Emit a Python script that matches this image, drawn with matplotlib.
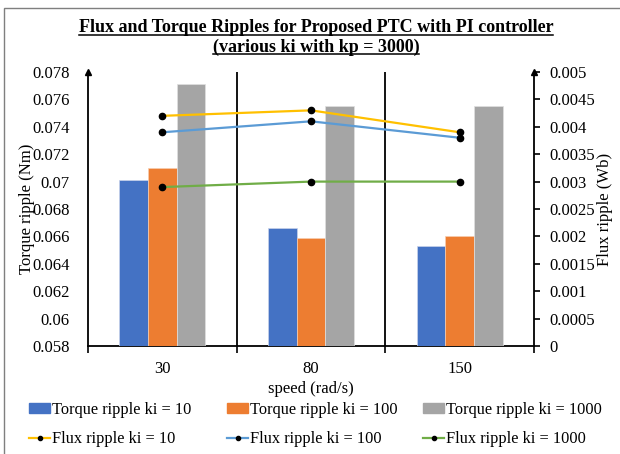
import numpy as np
import matplotlib
matplotlib.use('Agg')
import matplotlib.pyplot as plt
from matplotlib.lines import Line2D
from matplotlib.patches import Patch, Rectangle

plt.rcParams['font.family'] = ['Liberation Serif', 'DejaVu Serif']

# data
speeds = ['30', '80', '150']
torque_ki10 = [0.0701, 0.0666, 0.0653]
torque_ki100 = [0.0710, 0.0659, 0.0660]
torque_ki1000 = [0.0771, 0.0755, 0.0755]
flux_ki10 = [0.0042, 0.0043, 0.0039]
flux_ki100 = [0.0039, 0.0041, 0.0038]
flux_ki1000 = [0.0029, 0.0030, 0.0030]
ki_values = ['10', '100', '1000']

W, H = 620, 454
fig = plt.figure(figsize=(6.2, 4.54), dpi=100)

# outer chart border
fig.patches.append(Rectangle((4 / W, -0.1), 1.2, 1 - 8 / H + 0.1, transform=fig.transFigure,
                             fill=False, edgecolor='#7f7f7f', lw=1))

left, right, top, bottom = 88, 534, 72, 346
ax = fig.add_axes([left / W, 1 - bottom / H, (right - left) / W, (bottom - top) / H])
ax2 = ax.twinx()

x = np.arange(len(speeds))
bw = 0.193
bar_colors = ['#4472C4', '#ED7D31', '#A5A5A5']
ax.bar(x - bw, torque_ki10, bw, color=bar_colors[0], edgecolor='#c9d3ea', lw=0.5, zorder=3)
ax.bar(x, torque_ki100, bw, color=bar_colors[1], edgecolor='#f7cdb0', lw=0.5, zorder=3)
ax.bar(x + bw, torque_ki1000, bw, color=bar_colors[2], edgecolor='#e0e0e0', lw=0.5, zorder=3)

ax.set_ylim(0.058, 0.078)
ax.set_yticks(np.arange(0.058, 0.0781, 0.002))
ax.set_yticklabels(['0.058', '0.06', '0.062', '0.064', '0.066', '0.068', '0.07',
                    '0.072', '0.074', '0.076', '0.078'])
ax.set_xlim(-0.5, 2.5)
ax.set_xticks([-0.5, 0.5, 1.5, 2.5])
ax.set_xticklabels([])
ax.set_xticks(x, minor=True)
ax.set_xticklabels(speeds, minor=True)
ax.tick_params(axis='x', which='major', length=5, width=1.2, direction='out')
ax.tick_params(axis='x', which='minor', length=0, labelsize=12, pad=11)
ax.tick_params(axis='y', length=0, labelsize=12, pad=13)
for xv in [0.5, 1.5]:
    ax.axvline(xv, color='black', lw=1.3, zorder=2)
for s in ['top', 'right']:
    ax.spines[s].set_visible(False)
ax.spines['left'].set_linewidth(1.3)
ax.spines['bottom'].set_linewidth(1.3)
ax.plot([0], [1], marker='^', color='black', ms=4, transform=ax.transAxes, clip_on=False)

ax.set_xlabel('speed (rad/s)', fontsize=12, labelpad=3)
ax.set_ylabel('Torque ripple (Nm)', fontsize=12)
ax.yaxis.set_label_coords(-0.118, 0.5)

line_colors = ['#FFC000', '#5B9BD5', '#70AD47']
for vals, c in zip([flux_ki10, flux_ki100, flux_ki1000], line_colors):
    ax2.plot(x, vals, color=c, lw=1.6, marker='o', ms=4.5, mfc='black', mec='black', zorder=4)
ax2.set_ylim(0, 0.005)
ax2.set_yticks(np.arange(0, 0.00501, 0.0005))
ax2.set_yticklabels(['0', '0.0005', '0.001', '0.0015', '0.002', '0.0025', '0.003',
                     '0.0035', '0.004', '0.0045', '0.005'])
ax2.tick_params(axis='y', length=4, width=1.2, direction='out', labelsize=12, pad=7)
for s in ['top', 'left', 'bottom']:
    ax2.spines[s].set_visible(False)
ax2.spines['right'].set_linewidth(1.3)
ax2.plot([1], [1], marker='^', color='black', ms=4, transform=ax2.transAxes, clip_on=False)
ax2.set_ylabel('Flux ripple (Wb)', fontsize=12, rotation=90)
ax2.yaxis.set_label_coords(1.142, 0.5)

# title with underline
t1 = fig.text(316 / W, 1 - 28 / H, 'Flux and Torque Ripples for Proposed PTC with PI controller',
              ha='center', va='center', fontsize=13, fontweight='bold')
t2 = fig.text(316 / W, 1 - 47 / H, '(various ki with kp = 3000)',
              ha='center', va='center', fontsize=13, fontweight='bold')
fig.canvas.draw()
r = fig.canvas.get_renderer()
for t in [t1, t2]:
    bb = t.get_window_extent(r)
    yl = bb.y0 + 1.5
    fig.add_artist(Line2D([bb.x0 / W, bb.x1 / W], [yl / H, yl / H], color='black', lw=1.1,
                          transform=fig.transFigure))

# legend: three columns placed where the reference has them
col_x = [29, 227, 423]
for i, ki in enumerate(ki_values):
    hs = [Patch(color=bar_colors[i]),
          Line2D([], [], color=line_colors[i], lw=1.6, marker='o', ms=3, mfc='black', mec='black')]
    labs = ['Torque ripple ki = ' + ki, 'Flux ripple ki = ' + ki]
    fig.legend(hs, labs, loc='upper left', bbox_to_anchor=(col_x[i] / W, 1 - 402 / H),
               frameon=False, fontsize=11.8, handlelength=1.3, handleheight=0.6,
               handletextpad=0.08, labelspacing=0.8, borderpad=0, borderaxespad=0)

fig.savefig('out.png', dpi=100)
